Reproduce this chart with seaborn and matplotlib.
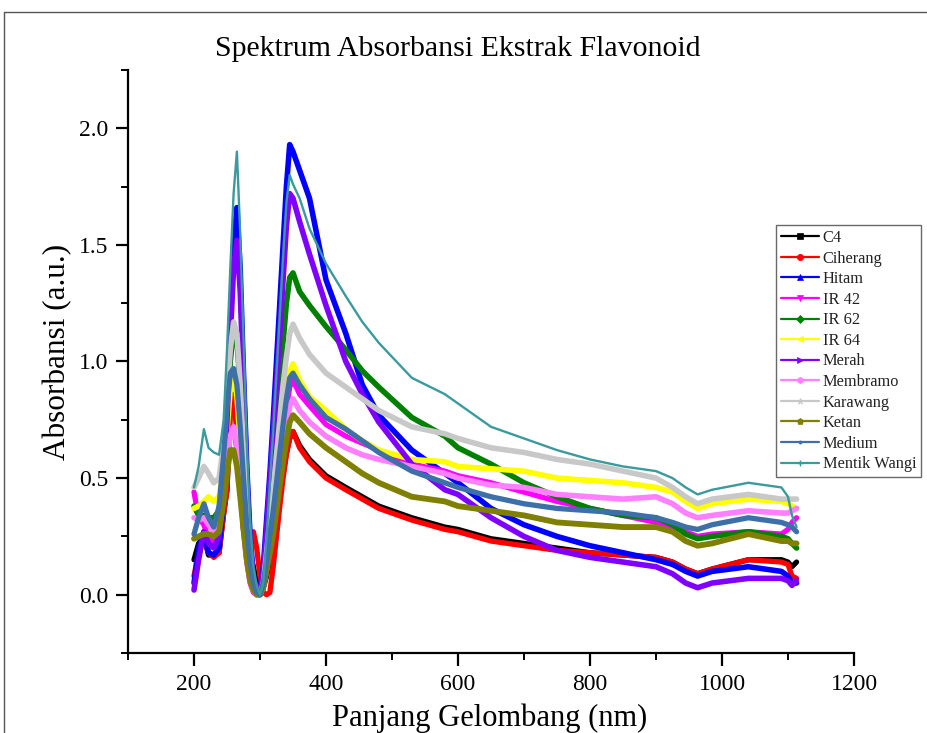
import matplotlib
matplotlib.use("Agg")
import matplotlib.pyplot as plt
from matplotlib.lines import Line2D
from matplotlib.ticker import MultipleLocator
import numpy as np
import pandas as pd
import seaborn as sns

# ---------------- data ----------------
wavelength = [200, 207, 215, 222, 230, 238, 245,
              250, 255, 260, 265, 270, 275, 280, 285, 290, 295, 300, 305, 310, 315,
              320, 325, 330, 335, 340, 345, 350,
              360, 375, 400, 430, 455, 480, 530, 580, 600, 650, 700, 750, 800, 850,
              900, 925, 945, 963, 985, 1040, 1090, 1100, 1106, 1113]

c4 = [0.15, 0.22, 0.25, 0.17, 0.17, 0.18, 0.35,
      0.45, 0.80, 0.86, 0.72, 0.48, 0.28, 0.18, 0.17, 0.12, 0.05, 0.00, 0.03, 0.08, 0.15,
      0.22, 0.33, 0.43, 0.52, 0.61, 0.67, 0.70,
      0.64, 0.58, 0.51, 0.46, 0.42, 0.38, 0.33, 0.29, 0.28, 0.24, 0.22, 0.20, 0.18, 0.17,
      0.16, 0.14, 0.11, 0.09, 0.11, 0.15, 0.15, 0.14, 0.12, 0.14]
ciherang = [0.08, 0.18, 0.25, 0.18, 0.16, 0.18, 0.35,
            0.45, 0.80, 0.85, 0.70, 0.48, 0.30, 0.22, 0.25, 0.27, 0.20, 0.08, 0.01, 0.00, 0.01,
            0.12, 0.25, 0.38, 0.50, 0.60, 0.67, 0.70,
            0.63, 0.57, 0.50, 0.45, 0.41, 0.37, 0.32, 0.28, 0.27, 0.23, 0.21, 0.19, 0.18, 0.17,
            0.16, 0.14, 0.11, 0.09, 0.11, 0.15, 0.14, 0.13, 0.08, 0.07]
hitam = [0.05, 0.20, 0.27, 0.18, 0.17, 0.20, 0.40,
         0.75, 1.15, 1.50, 1.66, 1.40, 0.95, 0.55, 0.25, 0.08, 0.02, 0.02, 0.12, 0.32, 0.52,
         0.75, 1.00, 1.25, 1.50, 1.75, 1.93, 1.90,
         1.82, 1.70, 1.35, 1.12, 0.90, 0.77, 0.62, 0.52, 0.48, 0.37, 0.30, 0.25, 0.21, 0.18,
         0.15, 0.13, 0.10, 0.08, 0.10, 0.12, 0.10, 0.08, 0.05, 0.05]
ir42 = [0.44, 0.33, 0.30, 0.24, 0.22, 0.28, 0.45,
        0.58, 0.70, 0.72, 0.62, 0.45, 0.28, 0.14, 0.05, 0.01, 0.00, 0.00, 0.04, 0.12, 0.22,
        0.32, 0.44, 0.57, 0.69, 0.80, 0.89, 0.92,
        0.86, 0.81, 0.73, 0.68, 0.65, 0.62, 0.56, 0.53, 0.51, 0.48, 0.44, 0.40, 0.37, 0.34,
        0.31, 0.29, 0.27, 0.25, 0.26, 0.27, 0.26, 0.28, 0.31, 0.33]
ir62 = [0.38, 0.34, 0.34, 0.33, 0.33, 0.36, 0.55,
        0.75, 1.00, 1.14, 1.10, 0.88, 0.60, 0.35, 0.15, 0.05, 0.01, 0.00, 0.06, 0.20, 0.35,
        0.50, 0.70, 0.90, 1.08, 1.25, 1.36, 1.38,
        1.30, 1.24, 1.15, 1.05, 0.96, 0.89, 0.76, 0.68, 0.63, 0.56, 0.48, 0.42, 0.37, 0.34,
        0.33, 0.30, 0.26, 0.24, 0.25, 0.27, 0.25, 0.24, 0.22, 0.20]
ir64 = [0.37, 0.38, 0.40, 0.42, 0.40, 0.42, 0.55,
        0.70, 0.88, 0.93, 0.85, 0.65, 0.42, 0.22, 0.08, 0.02, 0.00, 0.00, 0.04, 0.14, 0.25,
        0.35, 0.48, 0.62, 0.75, 0.87, 0.96, 0.99,
        0.92, 0.85, 0.79, 0.71, 0.66, 0.62, 0.58, 0.57, 0.55, 0.54, 0.53, 0.50, 0.49, 0.48,
        0.46, 0.44, 0.40, 0.37, 0.39, 0.41, 0.40, 0.39, 0.38, 0.37]
merah = [0.02, 0.15, 0.27, 0.22, 0.20, 0.25, 0.45,
         0.75, 1.10, 1.40, 1.52, 1.30, 0.90, 0.50, 0.22, 0.07, 0.02, 0.02, 0.10, 0.28, 0.48,
         0.68, 0.90, 1.12, 1.35, 1.58, 1.72, 1.70,
         1.60, 1.46, 1.24, 1.00, 0.86, 0.74, 0.56, 0.45, 0.43, 0.33, 0.25, 0.19, 0.16, 0.14,
         0.12, 0.09, 0.05, 0.03, 0.05, 0.07, 0.07, 0.06, 0.04, 0.06]
membramo = [0.33, 0.32, 0.33, 0.30, 0.27, 0.30, 0.45,
            0.58, 0.68, 0.72, 0.64, 0.48, 0.30, 0.15, 0.06, 0.02, 0.00, 0.00, 0.04, 0.12, 0.20,
            0.28, 0.40, 0.51, 0.62, 0.72, 0.81, 0.84,
            0.79, 0.74, 0.68, 0.63, 0.60, 0.58, 0.55, 0.52, 0.50, 0.47, 0.46, 0.43, 0.42, 0.41,
            0.42, 0.39, 0.35, 0.33, 0.34, 0.36, 0.35, 0.35, 0.36, 0.37]
karawang = [0.46, 0.50, 0.55, 0.52, 0.48, 0.50, 0.65,
            0.85, 1.05, 1.17, 1.12, 0.90, 0.62, 0.35, 0.15, 0.05, 0.01, 0.00, 0.05, 0.18, 0.32,
            0.45, 0.60, 0.75, 0.90, 1.02, 1.12, 1.16,
            1.10, 1.03, 0.95, 0.89, 0.84, 0.79, 0.72, 0.69, 0.67, 0.63, 0.61, 0.58, 0.56, 0.53,
            0.50, 0.46, 0.42, 0.39, 0.41, 0.43, 0.41, 0.41, 0.41, 0.41]
ketan = [0.24, 0.25, 0.26, 0.26, 0.25, 0.27, 0.40,
         0.52, 0.62, 0.62, 0.55, 0.42, 0.28, 0.15, 0.06, 0.02, 0.00, 0.00, 0.03, 0.10, 0.18,
         0.26, 0.36, 0.47, 0.57, 0.66, 0.74, 0.77,
         0.74, 0.69, 0.63, 0.57, 0.52, 0.48, 0.42, 0.40, 0.38, 0.36, 0.34, 0.31, 0.30, 0.29,
         0.29, 0.27, 0.23, 0.21, 0.22, 0.26, 0.23, 0.23, 0.22, 0.22]
medium = [0.26, 0.33, 0.39, 0.33, 0.29, 0.38, 0.60,
          0.80, 0.95, 0.97, 0.90, 0.72, 0.50, 0.30, 0.14, 0.05, 0.01, 0.00, 0.05, 0.15, 0.26,
          0.36, 0.48, 0.61, 0.73, 0.84, 0.93, 0.95,
          0.90, 0.84, 0.76, 0.71, 0.66, 0.61, 0.53, 0.48, 0.46, 0.42, 0.39, 0.37, 0.36, 0.35,
          0.33, 0.31, 0.29, 0.28, 0.30, 0.33, 0.31, 0.30, 0.29, 0.27]
mentik_wangi = [0.46, 0.55, 0.71, 0.63, 0.61, 0.60, 0.75,
                1.05, 1.40, 1.72, 1.90, 1.55, 1.10, 0.65, 0.32, 0.12, 0.04, 0.00, 0.05, 0.25, 0.48,
                0.70, 0.95, 1.20, 1.45, 1.68, 1.80, 1.76,
                1.70, 1.57, 1.42, 1.28, 1.17, 1.08, 0.93, 0.86, 0.82, 0.72, 0.67, 0.62, 0.58, 0.55,
                0.53, 0.50, 0.46, 0.43, 0.45, 0.48, 0.46, 0.42, 0.34, 0.29]

series_names = ["C4", "Ciherang", "Hitam", "IR 42", "IR 62", "IR 64", "Merah",
                "Membramo", "Karawang", "Ketan", "Medium", "Mentik Wangi"]
series_values = [c4, ciherang, hitam, ir42, ir62, ir64, merah,
                 membramo, karawang, ketan, medium, mentik_wangi]

# ---------------- styles ----------------
colors = ["#000000", "#FF0000", "#0000FF", "#FF00FF", "#008000", "#FFFF00",
          "#8000FF", "#FF80FF", "#C8C8C8", "#808000", "#3D6FA8", "#3A9A9C"]
markers = ["s", "o", "^", "v", "D", "<", ">", "h", "*", "p", ".", "+"]
widths = [3.8, 3.8, 4.0, 3.8, 4.0, 4.0, 4.0, 4.0, 4.0, 4.2, 3.8, 1.7]

frames = [pd.DataFrame({"Wavelength": wavelength, "Absorbance": v, "Sample": n})
          for n, v in zip(series_names, series_values)]
df = pd.concat(frames, ignore_index=True)

sns.set_theme(style="white")
plt.rcParams["font.family"] = ["Liberation Serif", "DejaVu Serif"]

fig = plt.figure(figsize=(9.28, 7.33), dpi=100)
ax = fig.add_axes([128 / 928, 1 - 653 / 733, (854 - 128) / 928, (653 - 70) / 733])

for name, col, lw in zip(series_names, colors, widths):
    sub = df[df["Sample"] == name]
    sns.lineplot(data=sub, x="Wavelength", y="Absorbance", color=col, linewidth=lw,
                 ax=ax, sort=False, legend=False, solid_joinstyle="round",
                 solid_capstyle="round")

ax.set_xlim(100, 1200)
ax.set_ylim(-0.25, 2.25)
ax.xaxis.set_major_locator(MultipleLocator(200))
ax.xaxis.set_minor_locator(MultipleLocator(100))
ax.yaxis.set_major_locator(MultipleLocator(0.5))
ax.yaxis.set_minor_locator(MultipleLocator(0.25))
ax.yaxis.set_major_formatter(matplotlib.ticker.FormatStrFormatter("%.1f"))

for s in ["top", "right"]:
    ax.spines[s].set_visible(False)
for s in ["left", "bottom"]:
    ax.spines[s].set_color("black")
    ax.spines[s].set_linewidth(1.6)

ax.tick_params(axis="both", which="major", direction="out", length=9, width=1.6,
               color="black", labelsize=17, labelcolor="black", left=True, bottom=True)
ax.tick_params(axis="x", which="major", pad=6)
ax.tick_params(axis="y", which="major", pad=5)
ax.tick_params(axis="both", which="minor", direction="out", length=5, width=1.4,
               color="black", left=True, bottom=True)

ax.set_xlabel("")
ax.set_ylabel("")
fig.text(490 / 928, 1 - 718 / 733, "Panjang Gelombang (nm)", ha="center", va="center",
         fontsize=22, color="black")
fig.text(58 / 928, 1 - 352 / 733, "Absorbansi (a.u.)", ha="center", va="center",
         rotation=90, fontsize=22.5, color="black")
fig.text(458 / 928, 1 - 49 / 733, "Spektrum Absorbansi Ekstrak Flavonoid", ha="center",
         va="center", fontsize=21.5, color="black")

handles = [Line2D([], [], color=c, lw=1.6, marker=m, markersize=4.5,
                  markeredgewidth=1.0 if m == "+" else 0.5)
           for c, m in zip(colors, markers)]
leg = ax.legend(handles, series_names, loc="upper left",
                bbox_to_anchor=(776 / 928, 1 - 225 / 733), bbox_transform=fig.transFigure,
                borderaxespad=0, fontsize=11.8, frameon=True, fancybox=False,
                handlelength=2.3, handletextpad=0.25, labelspacing=0.28, borderpad=0.3)
leg.get_frame().set_edgecolor("#444444")
leg.get_frame().set_linewidth(1.0)
for t in leg.get_texts():
    t.set_color("#222222")

# page frame lines (left and top edge of the figure)
fig.add_artist(Line2D([4 / 928, 4 / 928], [0, 1 - 12 / 733], transform=fig.transFigure,
                      color="#555555", lw=1.0))
fig.add_artist(Line2D([4 / 928, 1], [1 - 12 / 733, 1 - 12 / 733], transform=fig.transFigure,
                      color="#555555", lw=1.0))

fig.savefig("out.png", dpi=100)
